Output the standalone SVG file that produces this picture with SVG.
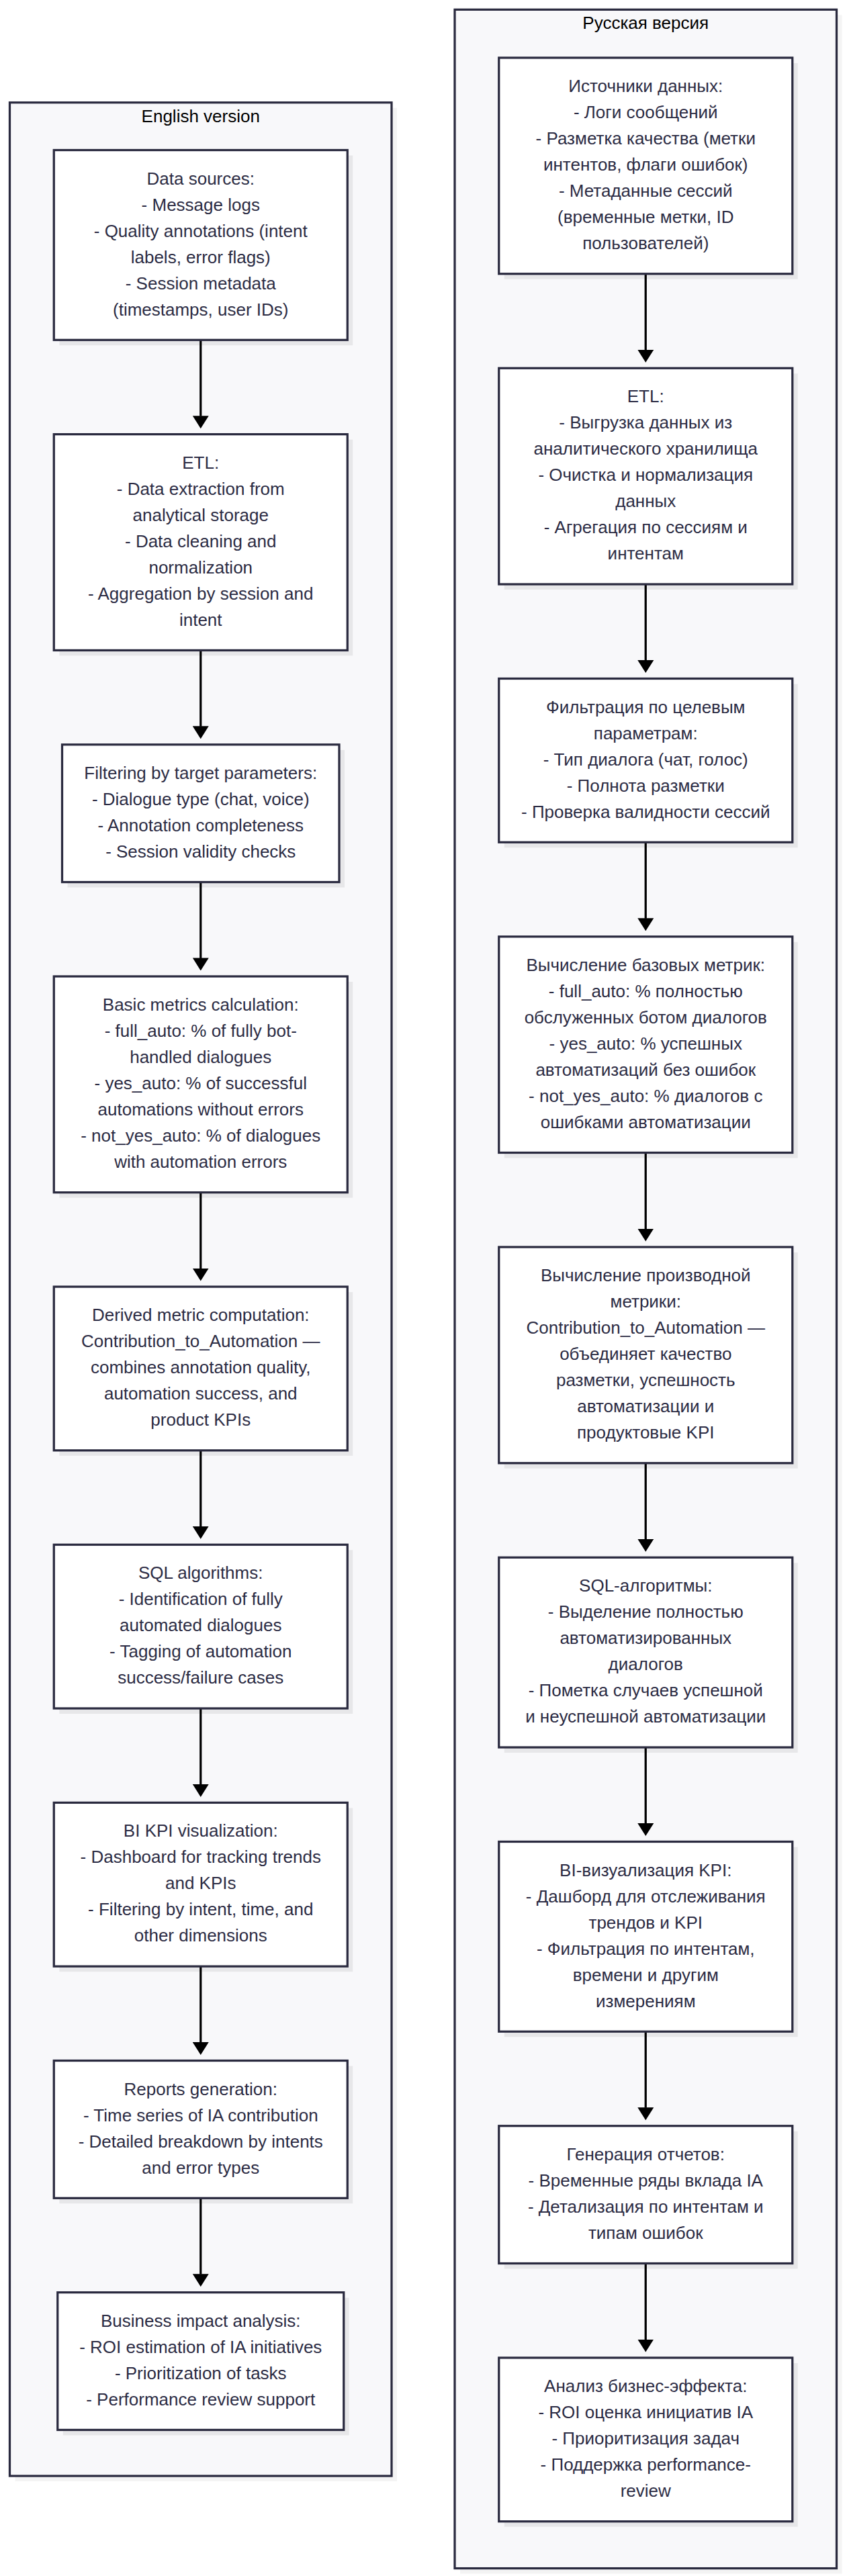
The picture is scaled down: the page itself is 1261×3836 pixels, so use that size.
<svg xmlns="http://www.w3.org/2000/svg" width="1261" height="3836" viewBox="0 0 1261 3836">
<style>
.bg{fill:#ffffff}
.cl{fill:#f8f8fa;stroke:#2a2a3f;stroke-width:3.25}
.csh{fill:#000;opacity:0.045}
.nd{fill:#ffffff;stroke:#2a2a3f;stroke-width:3.25}
.sh{fill:#000;opacity:0.065}
.tt{font-family:"Liberation Sans",Arial,sans-serif;font-size:26px;fill:#000;text-anchor:middle}
.tx{font-family:"Liberation Sans",Arial,sans-serif;font-size:26px;fill:#2c2c44;text-anchor:middle}
.ed{stroke:#000;stroke-width:3.25;fill:none}
</style>
<defs>
<marker id="arrow" markerUnits="userSpaceOnUse" markerWidth="19" markerHeight="24" viewBox="0 0 19 24" refX="0.5" refY="12" orient="auto">
<path d="M0,0 L19,12 L0,24 z" fill="#000"/>
</marker>
</defs>
<rect class="bg" x="0" y="0" width="1261" height="3836"/>

<g id="cluster-en">
<rect class="csh" x="22.5" y="160.7" width="568.5" height="3534.3"/>
<rect class="cl" x="14.5" y="152.7" width="568.5" height="3534.3"/>
<text class="tt" x="298.75" y="182.3">English version</text>
</g>
<g id="cluster-ru">
<rect class="csh" x="685" y="22.3" width="568.5" height="3810.3"/>
<rect class="cl" x="677" y="14.3" width="568.5" height="3810.3"/>
<text class="tt" x="961.25" y="43.3">Русская версия</text>
</g>

<g id="connectors">
<line class="ed" x1="298.75" y1="506.25" x2="298.75" y2="619.65" marker-end="url(#arrow)"/>
<line class="ed" x1="298.75" y1="968.4" x2="298.75" y2="1081.8" marker-end="url(#arrow)"/>
<line class="ed" x1="298.75" y1="1313.55" x2="298.75" y2="1426.95" marker-end="url(#arrow)"/>
<line class="ed" x1="298.75" y1="1775.7" x2="298.75" y2="1889.1" marker-end="url(#arrow)"/>
<line class="ed" x1="298.75" y1="2159.85" x2="298.75" y2="2273.25" marker-end="url(#arrow)"/>
<line class="ed" x1="298.75" y1="2544" x2="298.75" y2="2657.4" marker-end="url(#arrow)"/>
<line class="ed" x1="298.75" y1="2928.15" x2="298.75" y2="3041.55" marker-end="url(#arrow)"/>
<line class="ed" x1="298.75" y1="3273.3" x2="298.75" y2="3386.7" marker-end="url(#arrow)"/>
<line class="ed" x1="961.25" y1="407.75" x2="961.25" y2="521.25" marker-end="url(#arrow)"/>
<line class="ed" x1="961.25" y1="870" x2="961.25" y2="983.5" marker-end="url(#arrow)"/>
<line class="ed" x1="961.25" y1="1254.25" x2="961.25" y2="1367.75" marker-end="url(#arrow)"/>
<line class="ed" x1="961.25" y1="1716.5" x2="961.25" y2="1830" marker-end="url(#arrow)"/>
<line class="ed" x1="961.25" y1="2178.75" x2="961.25" y2="2292.25" marker-end="url(#arrow)"/>
<line class="ed" x1="961.25" y1="2602" x2="961.25" y2="2715.5" marker-end="url(#arrow)"/>
<line class="ed" x1="961.25" y1="3025.25" x2="961.25" y2="3138.75" marker-end="url(#arrow)"/>
<line class="ed" x1="961.25" y1="3370.5" x2="961.25" y2="3484" marker-end="url(#arrow)"/>
</g>

<g id="en-data-sources">
<rect class="sh" x="88.25" y="231.5" width="437" height="282.75"/>
<rect class="nd" x="80.25" y="223.5" width="437" height="282.75"/>
<text class="tx" y="274.5"><tspan x="298.75">Data sources:</tspan><tspan x="298.75" dy="39">- Message logs</tspan><tspan x="298.75" dy="39">- Quality annotations (intent</tspan><tspan x="298.75" dy="39">labels, error flags)</tspan><tspan x="298.75" dy="39">- Session metadata</tspan><tspan x="298.75" dy="39">(timestamps, user IDs)</tspan></text>
</g>
<g id="en-etl">
<rect class="sh" x="88.25" y="654.65" width="437" height="321.75"/>
<rect class="nd" x="80.25" y="646.65" width="437" height="321.75"/>
<text class="tx" y="697.65"><tspan x="298.75">ETL:</tspan><tspan x="298.75" dy="39">- Data extraction from</tspan><tspan x="298.75" dy="39">analytical storage</tspan><tspan x="298.75" dy="39">- Data cleaning and</tspan><tspan x="298.75" dy="39">normalization</tspan><tspan x="298.75" dy="39">- Aggregation by session and</tspan><tspan x="298.75" dy="39">intent</tspan></text>
</g>
<g id="en-filtering">
<rect class="sh" x="100.5" y="1116.8" width="412.5" height="204.75"/>
<rect class="nd" x="92.5" y="1108.8" width="412.5" height="204.75"/>
<text class="tx" y="1159.8"><tspan x="298.75">Filtering by target parameters:</tspan><tspan x="298.75" dy="39">- Dialogue type (chat, voice)</tspan><tspan x="298.75" dy="39">- Annotation completeness</tspan><tspan x="298.75" dy="39">- Session validity checks</tspan></text>
</g>
<g id="en-basic-metrics">
<rect class="sh" x="88.25" y="1461.95" width="437" height="321.75"/>
<rect class="nd" x="80.25" y="1453.95" width="437" height="321.75"/>
<text class="tx" y="1504.95"><tspan x="298.75">Basic metrics calculation:</tspan><tspan x="298.75" dy="39">- full_auto: % of fully bot-</tspan><tspan x="298.75" dy="39">handled dialogues</tspan><tspan x="298.75" dy="39">- yes_auto: % of successful</tspan><tspan x="298.75" dy="39">automations without errors</tspan><tspan x="298.75" dy="39">- not_yes_auto: % of dialogues</tspan><tspan x="298.75" dy="39">with automation errors</tspan></text>
</g>
<g id="en-derived-metric">
<rect class="sh" x="88.25" y="1924.1" width="437" height="243.75"/>
<rect class="nd" x="80.25" y="1916.1" width="437" height="243.75"/>
<text class="tx" y="1967.1"><tspan x="298.75">Derived metric computation:</tspan><tspan x="298.75" dy="39">Contribution_to_Automation —</tspan><tspan x="298.75" dy="39">combines annotation quality,</tspan><tspan x="298.75" dy="39">automation success, and</tspan><tspan x="298.75" dy="39">product KPIs</tspan></text>
</g>
<g id="en-sql">
<rect class="sh" x="88.25" y="2308.25" width="437" height="243.75"/>
<rect class="nd" x="80.25" y="2300.25" width="437" height="243.75"/>
<text class="tx" y="2351.25"><tspan x="298.75">SQL algorithms:</tspan><tspan x="298.75" dy="39">- Identification of fully</tspan><tspan x="298.75" dy="39">automated dialogues</tspan><tspan x="298.75" dy="39">- Tagging of automation</tspan><tspan x="298.75" dy="39">success/failure cases</tspan></text>
</g>
<g id="en-bi">
<rect class="sh" x="88.25" y="2692.4" width="437" height="243.75"/>
<rect class="nd" x="80.25" y="2684.4" width="437" height="243.75"/>
<text class="tx" y="2735.4"><tspan x="298.75">BI KPI visualization:</tspan><tspan x="298.75" dy="39">- Dashboard for tracking trends</tspan><tspan x="298.75" dy="39">and KPIs</tspan><tspan x="298.75" dy="39">- Filtering by intent, time, and</tspan><tspan x="298.75" dy="39">other dimensions</tspan></text>
</g>
<g id="en-reports">
<rect class="sh" x="88.25" y="3076.55" width="437" height="204.75"/>
<rect class="nd" x="80.25" y="3068.55" width="437" height="204.75"/>
<text class="tx" y="3119.55"><tspan x="298.75">Reports generation:</tspan><tspan x="298.75" dy="39">- Time series of IA contribution</tspan><tspan x="298.75" dy="39">- Detailed breakdown by intents</tspan><tspan x="298.75" dy="39">and error types</tspan></text>
</g>
<g id="en-business">
<rect class="sh" x="93.75" y="3421.7" width="426" height="204.75"/>
<rect class="nd" x="85.75" y="3413.7" width="426" height="204.75"/>
<text class="tx" y="3464.7"><tspan x="298.75">Business impact analysis:</tspan><tspan x="298.75" dy="39">- ROI estimation of IA initiatives</tspan><tspan x="298.75" dy="39">- Prioritization of tasks</tspan><tspan x="298.75" dy="39">- Performance review support</tspan></text>
</g>

<g id="ru-data-sources">
<rect class="sh" x="750.75" y="94" width="437" height="321.75"/>
<rect class="nd" x="742.75" y="86" width="437" height="321.75"/>
<text class="tx" y="137"><tspan x="961.25">Источники данных:</tspan><tspan x="961.25" dy="39">- Логи сообщений</tspan><tspan x="961.25" dy="39">- Разметка качества (метки</tspan><tspan x="961.25" dy="39">интентов, флаги ошибок)</tspan><tspan x="961.25" dy="39">- Метаданные сессий</tspan><tspan x="961.25" dy="39">(временные метки, ID</tspan><tspan x="961.25" dy="39">пользователей)</tspan></text>
</g>
<g id="ru-etl">
<rect class="sh" x="750.75" y="556.25" width="437" height="321.75"/>
<rect class="nd" x="742.75" y="548.25" width="437" height="321.75"/>
<text class="tx" y="599.25"><tspan x="961.25">ETL:</tspan><tspan x="961.25" dy="39">- Выгрузка данных из</tspan><tspan x="961.25" dy="39">аналитического хранилища</tspan><tspan x="961.25" dy="39">- Очистка и нормализация</tspan><tspan x="961.25" dy="39">данных</tspan><tspan x="961.25" dy="39">- Агрегация по сессиям и</tspan><tspan x="961.25" dy="39">интентам</tspan></text>
</g>
<g id="ru-filtering">
<rect class="sh" x="750.75" y="1018.5" width="437" height="243.75"/>
<rect class="nd" x="742.75" y="1010.5" width="437" height="243.75"/>
<text class="tx" y="1061.5"><tspan x="961.25">Фильтрация по целевым</tspan><tspan x="961.25" dy="39">параметрам:</tspan><tspan x="961.25" dy="39">- Тип диалога (чат, голос)</tspan><tspan x="961.25" dy="39">- Полнота разметки</tspan><tspan x="961.25" dy="39">- Проверка валидности сессий</tspan></text>
</g>
<g id="ru-basic-metrics">
<rect class="sh" x="750.75" y="1402.75" width="437" height="321.75"/>
<rect class="nd" x="742.75" y="1394.75" width="437" height="321.75"/>
<text class="tx" y="1445.75"><tspan x="961.25">Вычисление базовых метрик:</tspan><tspan x="961.25" dy="39">- full_auto: % полностью</tspan><tspan x="961.25" dy="39">обслуженных ботом диалогов</tspan><tspan x="961.25" dy="39">- yes_auto: % успешных</tspan><tspan x="961.25" dy="39">автоматизаций без ошибок</tspan><tspan x="961.25" dy="39">- not_yes_auto: % диалогов с</tspan><tspan x="961.25" dy="39">ошибками автоматизации</tspan></text>
</g>
<g id="ru-derived-metric">
<rect class="sh" x="750.75" y="1865" width="437" height="321.75"/>
<rect class="nd" x="742.75" y="1857" width="437" height="321.75"/>
<text class="tx" y="1908"><tspan x="961.25">Вычисление производной</tspan><tspan x="961.25" dy="39">метрики:</tspan><tspan x="961.25" dy="39">Contribution_to_Automation —</tspan><tspan x="961.25" dy="39">объединяет качество</tspan><tspan x="961.25" dy="39">разметки, успешность</tspan><tspan x="961.25" dy="39">автоматизации и</tspan><tspan x="961.25" dy="39">продуктовые KPI</tspan></text>
</g>
<g id="ru-sql">
<rect class="sh" x="750.75" y="2327.25" width="437" height="282.75"/>
<rect class="nd" x="742.75" y="2319.25" width="437" height="282.75"/>
<text class="tx" y="2370.25"><tspan x="961.25">SQL-алгоритмы:</tspan><tspan x="961.25" dy="39">- Выделение полностью</tspan><tspan x="961.25" dy="39">автоматизированных</tspan><tspan x="961.25" dy="39">диалогов</tspan><tspan x="961.25" dy="39">- Пометка случаев успешной</tspan><tspan x="961.25" dy="39">и неуспешной автоматизации</tspan></text>
</g>
<g id="ru-bi">
<rect class="sh" x="750.75" y="2750.5" width="437" height="282.75"/>
<rect class="nd" x="742.75" y="2742.5" width="437" height="282.75"/>
<text class="tx" y="2793.5"><tspan x="961.25">BI-визуализация KPI:</tspan><tspan x="961.25" dy="39">- Дашборд для отслеживания</tspan><tspan x="961.25" dy="39">трендов и KPI</tspan><tspan x="961.25" dy="39">- Фильтрация по интентам,</tspan><tspan x="961.25" dy="39">времени и другим</tspan><tspan x="961.25" dy="39">измерениям</tspan></text>
</g>
<g id="ru-reports">
<rect class="sh" x="750.75" y="3173.75" width="437" height="204.75"/>
<rect class="nd" x="742.75" y="3165.75" width="437" height="204.75"/>
<text class="tx" y="3216.75"><tspan x="961.25">Генерация отчетов:</tspan><tspan x="961.25" dy="39">- Временные ряды вклада IA</tspan><tspan x="961.25" dy="39">- Детализация по интентам и</tspan><tspan x="961.25" dy="39">типам ошибок</tspan></text>
</g>
<g id="ru-business">
<rect class="sh" x="750.75" y="3519" width="437" height="243.75"/>
<rect class="nd" x="742.75" y="3511" width="437" height="243.75"/>
<text class="tx" y="3562"><tspan x="961.25">Анализ бизнес-эффекта:</tspan><tspan x="961.25" dy="39">- ROI оценка инициатив IA</tspan><tspan x="961.25" dy="39">- Приоритизация задач</tspan><tspan x="961.25" dy="39">- Поддержка performance-</tspan><tspan x="961.25" dy="39">review</tspan></text>
</g>
</svg>
